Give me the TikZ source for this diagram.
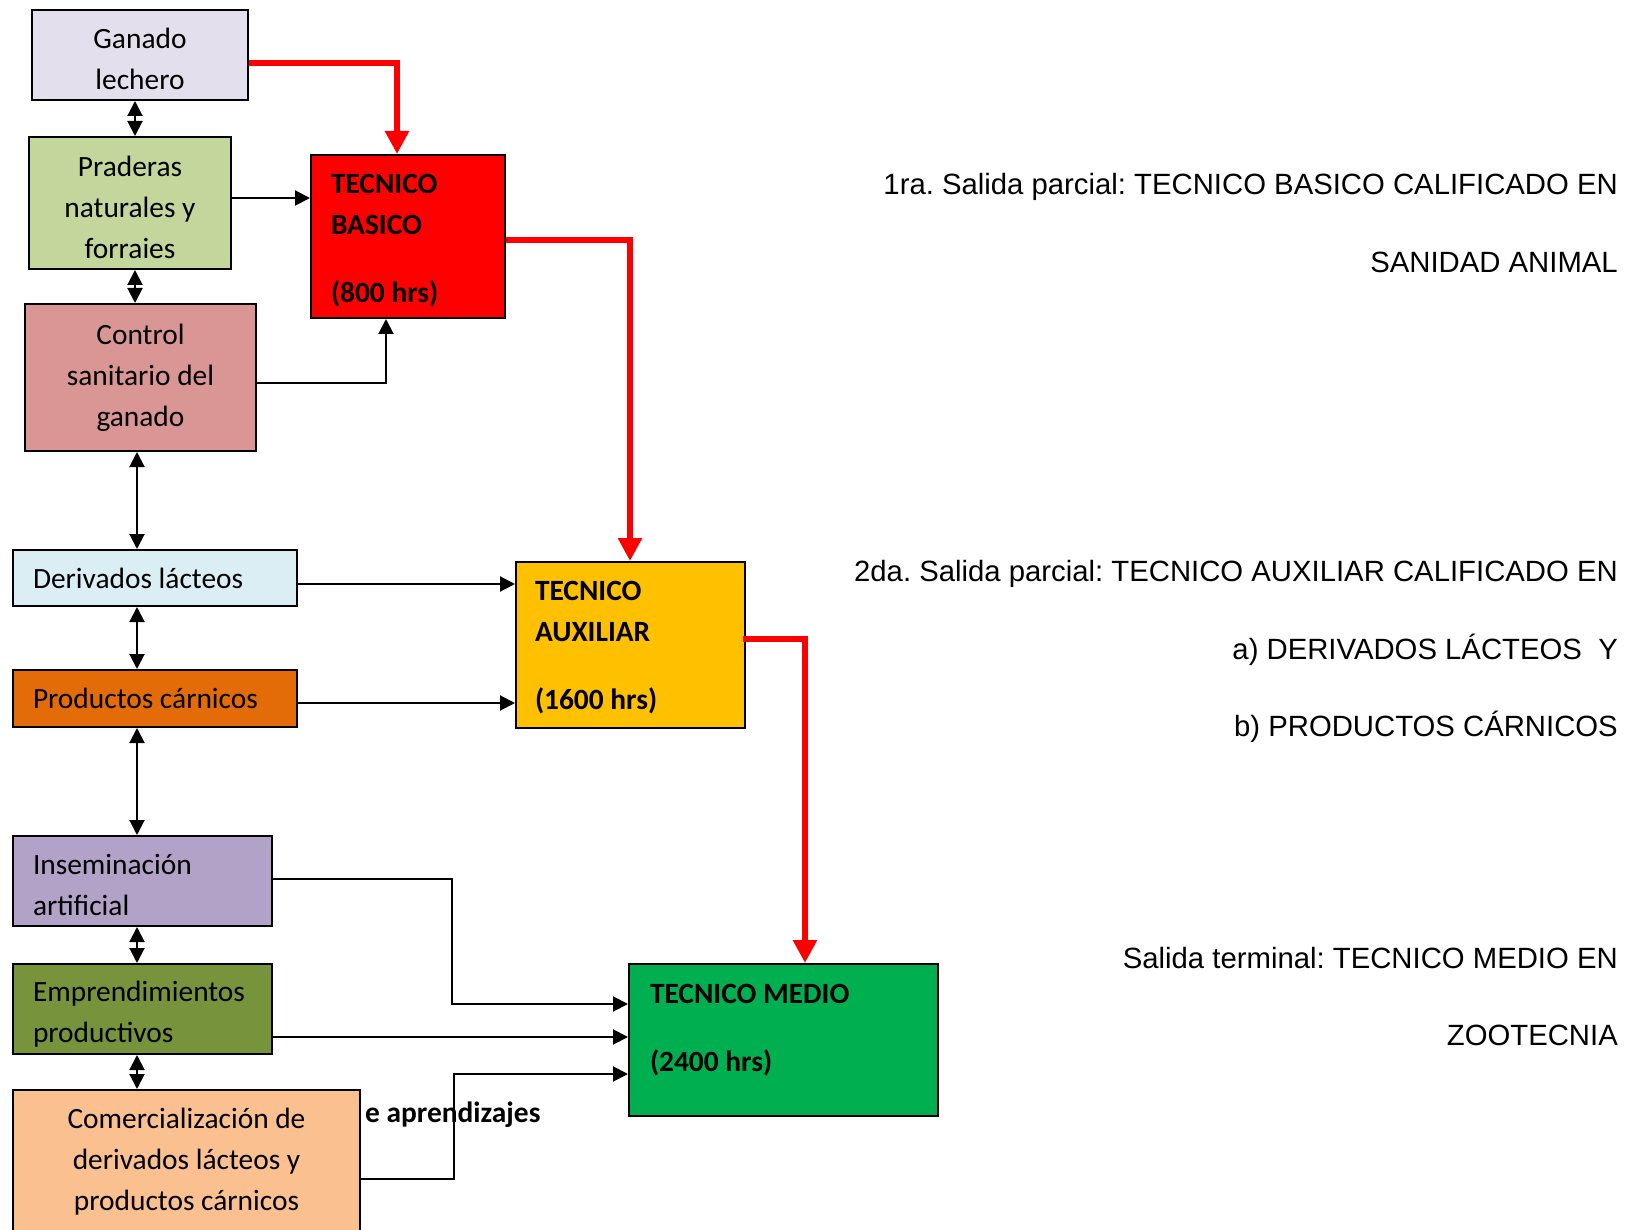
\documentclass[tikz,border=0pt]{standalone}
\usepackage{fontspec}
\setmainfont{Carlito}
\newfontfamily\arialfont{Liberation Sans}
\frenchspacing
\usetikzlibrary{arrows.meta}
\definecolor{cGan}{HTML}{E4DFEC}
\definecolor{cPra}{HTML}{C3D69B}
\definecolor{cCon}{HTML}{D99694}
\definecolor{cRed}{HTML}{FF0000}
\definecolor{cDer}{HTML}{DBEEF4}
\definecolor{cPro}{HTML}{E36C09}
\definecolor{cAux}{HTML}{FFC000}
\definecolor{cIns}{HTML}{B2A2C7}
\definecolor{cEmp}{HTML}{77933C}
\definecolor{cCom}{HTML}{FAC090}
\definecolor{cMed}{HTML}{00B050}
\newcommand{\topstrut}[1]{\rule{0pt}{#1}}
\begin{document}
\begin{tikzpicture}[x=1pt,y=-1pt,
  box/.style={draw=black, line width=2pt, inner sep=0pt, anchor=north west,
    font=\fontsize{29.4}{41}\selectfont,
    execute at begin node={\spaceskip=0pt\xspaceskip=0pt}},
  cbox/.style={box, align=center},
  lbox/.style={box, align=left},
  bbox/.style={lbox, font=\fontsize{29.4}{41}\selectfont\bfseries},
  conn/.style={line width=2pt, -{Triangle[length=15pt,width=15pt]}},
  dconn/.style={line width=2pt, {Triangle[length=15pt,width=15pt]}-{Triangle[length=15pt,width=15pt]}},
  redconn/.style={line width=6pt, draw=cRed, -{Triangle[length=23pt,width=23pt]}},
  rtxt/.style={font=\arialfont\fontsize{29.3}{35}\selectfont, anchor=base east, inner sep=0pt}
]
\useasboundingbox (0,0) rectangle (1639,1230);
\fill[white] (0,0) rectangle (1639,1230);

% partly hidden label
\node[font=\fontsize{29.4}{35}\selectfont\bfseries, anchor=base west, inner sep=0pt] (apr) at (365,1122) {e aprendizajes};

% left column
\node[cbox, fill=cGan, minimum width=216pt, minimum height=90pt] (gl) at (31,9) {\topstrut{28.5pt}Ganado\\lechero};
\node[cbox, fill=cPra, minimum width=202pt, minimum height=132pt] (pr) at (28,136) {\topstrut{28.5pt}Praderas\\naturales y\\forraies};
\node[cbox, fill=cCon, minimum width=231pt, minimum height=147pt] (cs) at (24,303) {Control\\sanitario del\\ganado};
\node[lbox, fill=cDer, minimum width=284pt, minimum height=56pt, text width=244pt] (dl) at (12,549) {Derivados lácteos};
\node[lbox, fill=cPro, minimum width=284pt, minimum height=57pt, text width=244pt] (pc) at (12,669) {Productos cárnicos};
\node[lbox, fill=cIns, minimum width=259pt, minimum height=90pt, text width=219pt] (ia) at (12,835) {\topstrut{28.5pt}Inseminación\\artificial};
\node[lbox, fill=cEmp, minimum width=259pt, minimum height=90pt, text width=219pt] (ep) at (12,963) {\topstrut{31.5pt}Emprendimientos\\productivos};
\node[cbox, fill=cCom, minimum width=347pt, minimum height=143pt] (co) at (12,1089) {Comercialización de\\derivados lácteos y\\productos cárnicos};

% levels
\node[bbox, fill=cRed, minimum width=194pt, minimum height=163pt, text width=154pt] (tb) at (310,154) {\topstrut{27pt}TECNICO\\BASICO\\[27pt](800 hrs)};
\node[bbox, fill=cAux, minimum width=229pt, minimum height=166pt, text width=191pt] (ta) at (515,561) {\topstrut{24.7pt}TECNICO\\AUXILIAR\\[27pt](1600 hrs)};
\node[bbox, fill=cMed, minimum width=309pt, minimum height=152pt, text width=267pt] (tm) at (628,963) {TECNICO MEDIO\\[27pt](2400 hrs)\\[-17pt]\mbox{}};

% right texts
\node[rtxt] (s1a) at (1618,195) {1ra. Salida parcial: TECNICO BASICO CALIFICADO EN};
\node[rtxt] (s1b) at (1618,273) {SANIDAD ANIMAL};
\node[rtxt] (s2a) at (1618,581) {2da. Salida parcial: TECNICO AUXILIAR CALIFICADO EN};
\node[rtxt] (s2b) at (1618,659) {a) DERIVADOS LÁCTEOS\ \ Y};
\node[rtxt] (s2c) at (1618,736) {b) PRODUCTOS CÁRNICOS};
\node[rtxt] (s3a) at (1618,968) {Salida terminal: TECNICO MEDIO EN};
\node[rtxt] (s3b) at (1618,1045) {ZOOTECNIA};

% vertical double arrows
\coordinate (vx) at (137,0);
\coordinate (vg) at (135,0);
\draw[dconn] (gl.south -| vg) -- (pr.north -| vg);
\draw[dconn] (pr.south -| vg) -- (cs.north -| vg);
\draw[dconn] (cs.south -| vx) -- (dl.north -| vx);
\draw[dconn] (dl.south -| vx) -- (pc.north -| vx);
\draw[dconn] (pc.south -| vx) -- (ia.north -| vx);
\draw[dconn] (ia.south -| vx) -- (ep.north -| vx);
\draw[dconn] (ep.south -| vx) -- (co.north -| vx);

% black connectors
\draw[conn] (pr.east |- 0,198) -- (tb.west |- 0,198);
\draw[conn] (cs.east |- 0,383) -| (tb.south -| 386,0);
\draw[conn] (dl.east |- 0,584) -- (ta.west |- 0,584);
\draw[conn] (pc.east |- 0,703) -- (ta.west |- 0,703);
\draw[conn] (ia.east |- 0,879) -| (452,1004) -- (tm.west |- 0,1004);
\draw[conn] (ep.east |- 0,1037) -- (tm.west |- 0,1037);
\draw[conn] (co.east |- 0,1179) -| (454,1074) -- (tm.west |- 0,1074);

% red connectors
\draw[redconn] (gl.east |- 0,63) -| (tb.north -| 397,0);
\draw[redconn] (tb.east |- 0,240) -| (ta.north -| 630,0);
\draw[redconn] ([xshift=-3pt]ta.east |- 0,639) -| (tm.north -| 805,0);
\end{tikzpicture}
\end{document}
